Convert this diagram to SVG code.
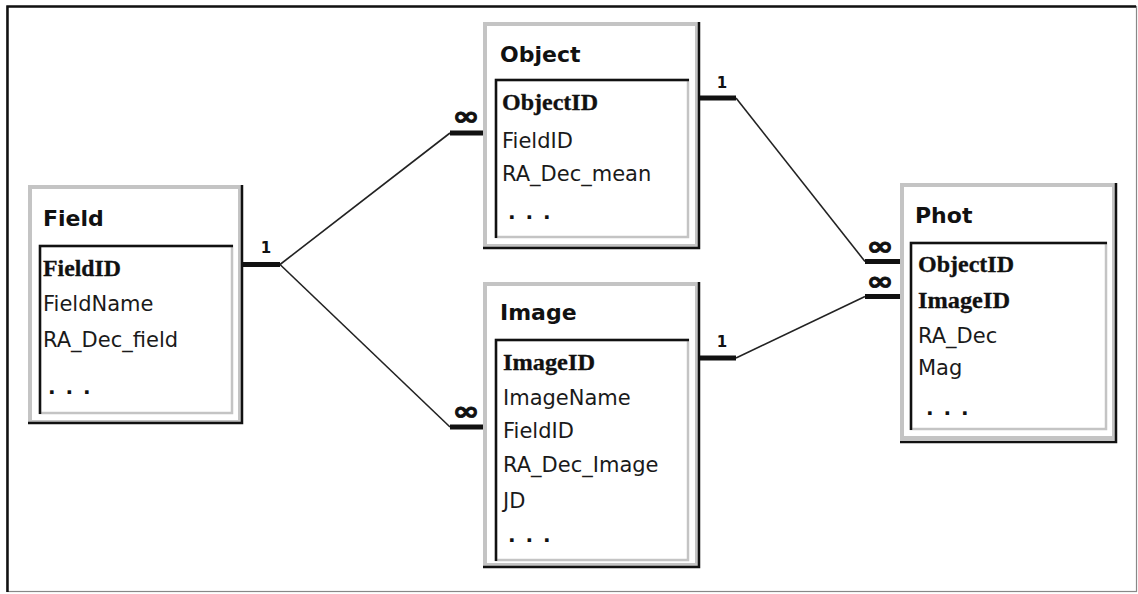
<svg xmlns="http://www.w3.org/2000/svg" width="1138" height="594" viewBox="0 0 1138 594">
<style>
.bg{fill:#fff}
.og{fill:#fff;stroke:#c4c4c4;stroke-width:4}
.ig{fill:#fff;stroke:#c4c4c4;stroke-width:2.5}
.dk{fill:none;stroke:#111;stroke-width:2.5}
.ttl{font-family:"DejaVu Sans",sans-serif;font-weight:bold;font-size:22px;fill:#111}
.key{font-family:"Liberation Serif",serif;font-weight:bold;font-size:23px;fill:#111;stroke:#111;stroke-width:0.3}
.fld{font-family:"DejaVu Sans",sans-serif;font-size:21px;fill:#1a1a1a}
.dots{font-family:"DejaVu Sans",sans-serif;font-weight:bold;font-size:20px;letter-spacing:1.5px;fill:#111}
.ln{fill:none;stroke:#222;stroke-width:1.6}
.bar{fill:none;stroke:#111;stroke-width:5}
.one{font-family:"DejaVu Sans",sans-serif;font-weight:bold;font-size:15px;fill:#111;text-anchor:middle}
.inf{font-family:"DejaVu Sans",sans-serif;font-weight:bold;font-size:26px;fill:#111;stroke:#111;stroke-width:0.8;text-anchor:middle}
</style>
<rect class="bg" x="0" y="0" width="1138" height="594"/>
<g id="frame">
<rect x="7" y="6.5" width="1129.5" height="585" fill="#fff" stroke="#888" stroke-width="1.2"/>
<path d="M7.5 592 V6.5 H1136" fill="none" stroke="#111" stroke-width="2.5"/>
</g>
<g id="connectors">
<line class="ln" x1="280" y1="264.5" x2="450" y2="133"/>
<line class="ln" x1="280" y1="264.5" x2="450" y2="427"/>
<line class="ln" x1="736" y1="98" x2="865" y2="261.5"/>
<line class="ln" x1="736" y1="358" x2="865" y2="296.5"/>
<line class="bar" x1="243" y1="264.5" x2="280" y2="264.5"/>
<line class="bar" x1="450" y1="133" x2="484" y2="133"/>
<line class="bar" x1="450" y1="427" x2="484" y2="427"/>
<line class="bar" x1="700" y1="98" x2="736" y2="98"/>
<line class="bar" x1="700" y1="358" x2="736" y2="358"/>
<line class="bar" x1="865" y1="261.5" x2="900" y2="261.5"/>
<line class="bar" x1="865" y1="296.5" x2="900" y2="296.5"/>
<text class="one" x="266" y="253">1</text>
<text class="one" x="722" y="88">1</text>
<text class="one" x="722" y="347">1</text>
<text class="inf" transform="translate(466 125) scale(1.25 1)" x="0" y="0">∞</text>
<text class="inf" transform="translate(466 420) scale(1.25 1)" x="0" y="0">∞</text>
<text class="inf" transform="translate(880 255) scale(1.25 1)" x="0" y="0">∞</text>
<text class="inf" transform="translate(880 290) scale(1.25 1)" x="0" y="0">∞</text>
</g>
<g id="field">
<rect class="og" x="30" y="187" width="210" height="235"/>
<path class="dk" d="M28 423 H242 V185"/>
<rect class="ig" x="40" y="246" width="192" height="167"/>
<path class="dk" d="M40 414 V246 H233"/>
<text class="ttl" x="43" y="226">Field</text>
<text class="key" x="43" y="276" textLength="78" lengthAdjust="spacingAndGlyphs">FieldID</text>
<text class="fld" x="43" y="311">FieldName</text>
<text class="fld" x="43" y="347">RA_Dec_field</text>
<text class="dots" x="48" y="394">. . .</text>
</g>
<g id="object">
<rect class="og" x="485" y="24" width="212" height="222"/>
<path class="dk" d="M483 248 H699 V22"/>
<rect class="ig" x="496" y="80" width="192" height="157"/>
<path class="dk" d="M496 238 V80 H689"/>
<text class="ttl" x="500" y="62">Object</text>
<text class="key" x="502" y="110" textLength="96" lengthAdjust="spacingAndGlyphs">ObjectID</text>
<text class="fld" x="502" y="148">FieldID</text>
<text class="fld" x="502" y="181">RA_Dec_mean</text>
<text class="dots" x="508" y="219">. . .</text>
</g>
<g id="image">
<rect class="og" x="485" y="284" width="212" height="281"/>
<path class="dk" d="M483 567 H699 V282"/>
<rect class="ig" x="496" y="340" width="192" height="220"/>
<path class="dk" d="M496 561 V340 H689"/>
<text class="ttl" x="500" y="320">Image</text>
<text class="key" x="503" y="370" textLength="92" lengthAdjust="spacingAndGlyphs">ImageID</text>
<text class="fld" x="503" y="405">ImageName</text>
<text class="fld" x="503" y="438">FieldID</text>
<text class="fld" x="503" y="472">RA_Dec_Image</text>
<text class="fld" x="503" y="508">JD</text>
<text class="dots" x="508" y="542">. . .</text>
</g>
<g id="phot">
<rect class="og" x="902" y="185" width="212" height="253"/>
<path class="dk" d="M900 442 H1116 V183"/>
<rect class="ig" x="911" y="243" width="195" height="186"/>
<path class="dk" d="M911 430 V243 H1107"/>
<text class="ttl" x="915" y="223">Phot</text>
<text class="key" x="918" y="272" textLength="96" lengthAdjust="spacingAndGlyphs">ObjectID</text>
<text class="key" x="918" y="308" textLength="92" lengthAdjust="spacingAndGlyphs">ImageID</text>
<text class="fld" x="918" y="343">RA_Dec</text>
<text class="fld" x="918" y="375">Mag</text>
<text class="dots" x="926" y="415">. . .</text>
</g>
</svg>
